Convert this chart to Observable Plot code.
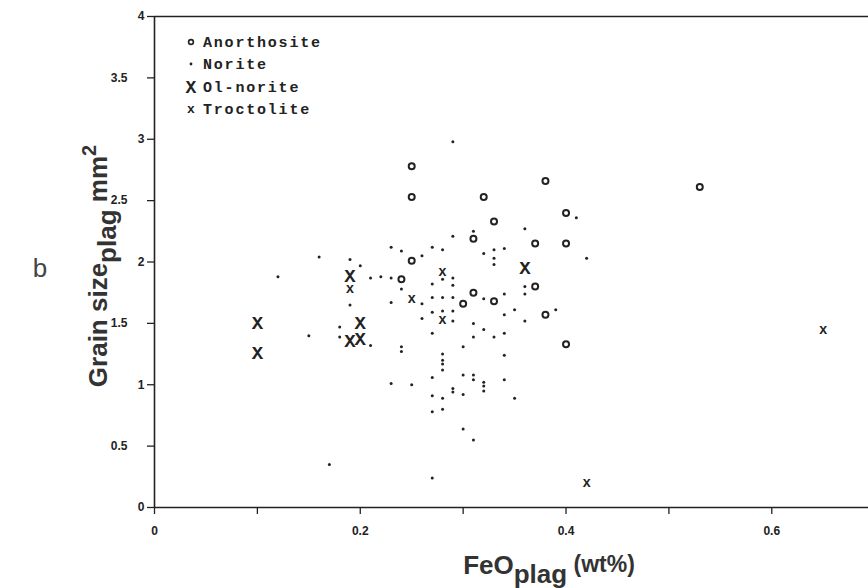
<!DOCTYPE html>
<html><head><meta charset="utf-8">
<script src="https://cdn.jsdelivr.net/npm/d3@7"></script>
<script src="https://cdn.jsdelivr.net/npm/@observablehq/plot@0.6"></script>
<style>body{margin:0;background:#fff}svg{display:block}</style>
</head><body><div id="chart"></div>
<script>
// FeO_plag (wt%), grain size_plag (mm^2)
const anorthosite = [
  [0.25,2.78],[0.25,2.53],[0.32,2.53],[0.38,2.66],[0.33,2.33],[0.31,2.19],
  [0.40,2.40],[0.37,2.15],[0.40,2.15],[0.25,2.01],[0.24,1.86],[0.37,1.80],
  [0.31,1.75],[0.33,1.68],[0.30,1.66],[0.38,1.57],[0.40,1.33],[0.53,2.61]
];
const norite = [
  [0.12,1.88],[0.16,2.04],[0.19,2.02],[0.20,1.97],[0.23,2.12],[0.24,2.09],
  [0.26,2.05],[0.21,1.87],[0.22,1.88],[0.23,1.87],[0.24,1.78],[0.27,2.12],
  [0.28,2.10],[0.29,2.21],[0.29,1.87],[0.29,1.81],[0.27,1.82],[0.28,1.86],
  [0.23,1.67],[0.19,1.65],[0.26,1.66],[0.27,1.71],[0.28,1.71],[0.29,1.71],
  [0.29,1.60],[0.28,1.60],[0.27,1.59],[0.26,1.54],[0.29,1.52],[0.18,1.47],
  [0.18,1.39],[0.21,1.32],[0.24,1.31],[0.24,1.27],[0.27,1.42],[0.28,1.25],
  [0.28,1.20],[0.28,1.17],[0.28,1.12],[0.29,2.98],[0.36,2.27],[0.41,2.36],
  [0.32,2.07],[0.33,2.10],[0.34,2.11],[0.33,2.03],[0.33,1.98],[0.36,1.80],
  [0.36,1.74],[0.32,1.70],[0.34,1.74],[0.34,1.57],[0.35,1.61],[0.36,1.52],
  [0.39,1.61],[0.31,1.50],[0.32,1.45],[0.33,1.39],[0.34,1.42],[0.31,1.39],
  [0.30,1.31],[0.34,1.24],[0.23,1.01],[0.25,1.00],[0.27,1.06],[0.30,1.08],
  [0.31,1.08],[0.31,1.04],[0.32,1.02],[0.32,0.99],[0.32,0.95],[0.29,0.97],
  [0.29,0.94],[0.34,1.04],[0.27,0.91],[0.28,0.89],[0.30,0.92],[0.35,0.89],
  [0.27,0.78],[0.28,0.80],[0.30,0.64],[0.31,0.55],[0.27,0.24],[0.15,1.40],
  [0.17,0.35],[0.42,2.03],[0.31,2.25]
];
const olNorite = [
  [0.10,1.50],[0.10,1.26],[0.20,1.50],[0.19,1.36],[0.20,1.37],[0.19,1.89],[0.36,1.95]
];
const troctolite = [
  [0.19,1.78],[0.28,1.92],[0.25,1.70],[0.28,1.53],[0.65,1.45],[0.42,0.20]
];
const xTicks = [0,0.1,0.2,0.3,0.4,0.5,0.6];
const xTickLabels = ["0","","0.2","","0.4","","0.6"];
const yTicksWhole = [0,1,2,3,4];
const yTicksHalf = [0.5,1.5,2.5,3.5];
const legendNames = ["Anorthosite","Norite","Ol-norite","Troctolite"];

const ink = "#222";
const fx = d => d[0], fy = d => d[1];

const plot = Plot.plot({
  width: 868, height: 588,
  marginLeft: 154, marginRight: 0, marginTop: 16, marginBottom: 81,
  x: {domain: [0, 0.694]},
  y: {domain: [0, 4]},
  style: {background: "#fff", color: ink, fontFamily: "Liberation Sans, Arial, sans-serif", fontSize: "12px", fontWeight: "bold"},
  marks: [
    Plot.axisX({ticks: xTicks, tickSize: 7, tickPadding: 12, tickFormat: d => xTickLabels[xTicks.indexOf(d)], label: null, stroke: ink, strokeWidth: 1.3}),
    Plot.axisY({ticks: yTicksWhole, tickSize: 7, tickPadding: 3, tickFormat: d => String(d), label: null, stroke: ink, strokeWidth: 1.3}),
    Plot.axisY({ticks: yTicksHalf, tickSize: 7, tickPadding: 20, tickFormat: d => String(d), label: null, stroke: ink, strokeWidth: 1.3}),
    Plot.ruleY([0], {stroke: ink, strokeWidth: 1.6}),
    Plot.ruleY([4], {stroke: ink, strokeWidth: 1.6}),
    Plot.ruleX([0], {stroke: ink, strokeWidth: 1.6}),
    Plot.dot(norite, {x: fx, y: fy, r: 1.5, fill: ink, stroke: "none"}),
    Plot.dot(anorthosite, {x: fx, y: fy, r: 3, stroke: ink, strokeWidth: 2, fill: "none"}),
    Plot.text(olNorite, {x: fx, y: fy, text: () => "X", fontSize: 19, fontFamily: "Liberation Mono, monospace", fontWeight: "bold", fill: ink}),
    Plot.text(troctolite, {x: fx, y: fy, text: () => "x", fontSize: 14, fontFamily: "Liberation Mono, monospace", fontWeight: "bold", fill: ink})
  ]
});
document.getElementById("chart").appendChild(plot);

const svg = d3.select(plot);
const sans = "Liberation Sans, Arial, sans-serif";
// y axis title
const yt = svg.append("text")
  .attr("transform", "translate(107,266) rotate(-90)")
  .attr("text-anchor", "middle")
  .attr("fill", "#333")
  .style("font-family", sans)
  .style("font-weight", "bold")
  .style("font-size", "26px");
yt.append("tspan").text("Grain size");
yt.append("tspan").attr("dy", 9).text("plag");
yt.append("tspan").attr("dy", -9).text(" mm");
yt.append("tspan").attr("font-size", "20px").attr("dy", -11).text("2");

// x axis title
const xt = svg.append("text")
  .attr("x", 549).attr("y", 574)
  .attr("text-anchor", "middle")
  .attr("fill", "#333")
  .style("font-family", sans)
  .style("font-weight", "bold")
  .style("font-size", "26px");
xt.append("tspan").text("FeO");
xt.append("tspan").attr("dy", 9).text("plag");
xt.append("tspan").attr("font-size", "23px").attr("dy", -11).text(" (wt%)");

// panel letter
svg.append("text").attr("x", 40).attr("y", 277).attr("text-anchor", "middle")
  .attr("fill", "#444").style("font-family", sans)
  .style("font-size", "26px").style("font-weight", "normal").text("b");

// legend
const lg = svg.append("g").style("font-family", "Liberation Mono, monospace").style("font-weight", "bold");
const rowY = [42, 64, 87, 109];
legendNames.forEach((name, i) => {
  lg.append("text").attr("x", 203).attr("y", rowY[i]).attr("dy", "0.35em")
    .attr("text-anchor", "start")
    .attr("fill", ink).style("font-size", "15px").style("letter-spacing", "1.8px").text(name);
});
lg.append("circle").attr("cx", 191).attr("cy", rowY[0]).attr("r", 2.4).attr("fill", "none").attr("stroke", ink).attr("stroke-width", 1.6);
lg.append("circle").attr("cx", 191).attr("cy", rowY[1]).attr("r", 1.4).attr("fill", ink);
lg.append("text").attr("x", 191).attr("y", rowY[2]).attr("dy", "0.35em").attr("text-anchor", "middle").attr("fill", ink).style("font-size", "18px").text("X");
lg.append("text").attr("x", 191).attr("y", rowY[3]).attr("dy", "0.3em").attr("text-anchor", "middle").attr("fill", ink).style("font-size", "13px").text("x");
</script></body></html>
